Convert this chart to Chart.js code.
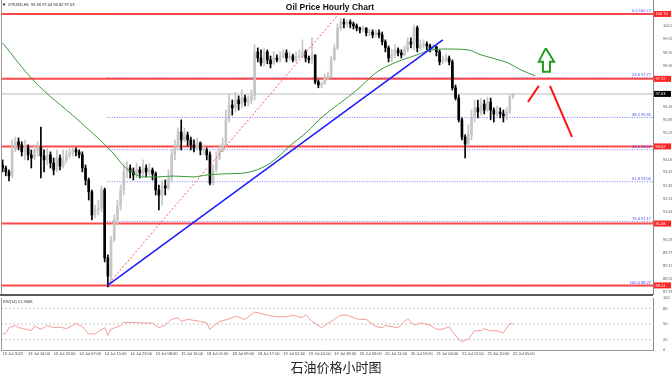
<!DOCTYPE html>
<html>
<head>
<meta charset="utf-8">
<script src="https://cdn.jsdelivr.net/npm/chart.js@4.4.0/dist/chart.umd.min.js"></script>
<style>
  html, body { margin: 0; padding: 0; background: #fff; }
  #wrap { position: relative; width: 672px; height: 377px; overflow: hidden; }
  #price-chart { position: absolute; left: 0; top: 0; }
  #rsi-chart { position: absolute; left: 0; top: 296px; }
  #divider { position: absolute; left: 0; top: 294px; width: 653px; height: 2px; background: #5a5a5a; }
  #title { position: absolute; left: 0; top: 2px; width: 660px; text-align: center;
           font: bold 8.5px "Liberation Sans", Arial, sans-serif; color: #111; }
  #caption { position: absolute; left: 0; top: 359px; width: 672px; text-align: center;
             font: 13px "Noto Sans CJK SC", sans-serif; color: #222; line-height: 16px; }
</style>
</head>
<body>
<div id="wrap">
  <canvas id="price-chart" width="672" height="295"></canvas>
  <div id="divider"></div>
  <canvas id="rsi-chart" width="672" height="62"></canvas>
  <div id="title">Oil Price Hourly Chart</div>
  <div id="caption">石油价格小时图</div>
</div>
<script>
// XTIUSD H1 candles, bar 0 = 13 Jul 06:00, bar 160 = 22 Jul 05:00
const opens = [93.77,93.63,93.45,93.27,94.46,94.83,94.69,94.37,94.55,94.23,
  94.09,94.46,94.55,94.18,94.00,94.23,93.86,93.54,94.09,93.72,
  94.00,94.23,94.32,94.46,94.37,94.23,93.63,93.08,92.53,91.47,
  91.70,91.80,92.62,89.50,88.67,90.33,91.25,91.89,92.62,93.45,
  93.63,93.45,93.31,93.54,93.40,93.63,93.45,93.54,93.36,92.62,
  92.39,92.81,92.71,93.17,94.23,94.55,95.28,94.92,95.15,94.92,
  94.69,94.55,94.78,94.46,94.46,94.23,92.94,93.54,94.09,94.46,
  94.69,95.84,96.52,96.39,96.75,96.57,96.84,96.66,96.75,96.94,
  98.96,98.68,98.45,98.96,98.59,98.41,98.68,98.59,98.73,98.91,
  98.68,98.77,98.59,98.73,98.77,98.96,98.68,98.59,98.82,97.58,
  97.44,97.49,97.76,97.85,98.59,99.14,100.06,100.33,100.24,100.33,
  100.24,100.15,100.06,99.97,100.06,99.83,99.87,99.74,99.83,99.74,
  99.42,99.14,98.68,98.82,99.05,98.91,98.82,99.05,99.42,99.32,
  100.06,99.14,99.28,99.32,99.23,99.05,99.19,98.96,98.50,98.59,
  98.68,98.50,97.31,96.84,95.84,95.05,94.73,95.15,95.93,96.39,
  96.20,96.57,96.29,96.66,96.29,96.11,96.20,96.11,96.02,96.20,
  96.90];
const highs = [94.00,93.72,93.54,94.92,95.05,95.01,94.83,94.92,94.69,94.46,
  94.69,94.83,95.51,94.46,94.55,94.37,94.09,94.46,94.23,94.46,
  94.46,94.55,94.55,94.55,94.46,94.37,93.77,93.17,92.62,91.93,
  92.16,92.81,92.71,89.64,90.51,91.47,92.16,92.85,93.77,93.91,
  93.77,93.63,93.86,93.68,94.00,93.77,93.82,93.63,93.45,92.85,
  93.08,93.08,93.54,94.46,94.92,95.47,95.84,95.47,95.28,95.05,
  94.92,95.01,94.83,94.69,94.55,94.37,93.77,94.37,94.69,95.01,
  96.29,96.98,96.75,97.12,96.94,97.21,96.98,96.94,97.21,99.28,
  99.14,99.05,99.14,99.05,98.77,98.96,98.82,98.96,99.05,99.05,
  98.96,98.86,98.96,99.05,99.51,99.05,98.77,99.60,98.82,97.67,
  97.58,97.95,98.04,98.77,99.32,100.24,100.52,100.47,100.43,100.43,
  100.33,100.24,100.10,100.15,100.06,100.01,99.97,99.97,99.97,99.87,
  99.51,99.23,99.05,99.28,99.14,99.05,99.23,99.60,99.60,100.20,
  100.15,99.51,99.51,99.42,99.32,99.32,99.23,99.05,98.77,98.86,
  98.77,98.59,97.44,96.98,95.93,95.15,95.61,96.29,96.75,96.75,
  96.84,96.75,96.89,96.84,96.39,96.48,96.39,96.29,96.39,96.98,
  97.04];
const lows = [93.45,93.27,93.04,93.17,94.37,94.46,94.18,94.00,94.00,93.63,
  94.00,94.18,93.17,93.45,93.77,93.63,93.31,93.45,93.54,93.63,
  93.86,94.09,94.18,94.18,94.09,93.45,92.85,92.16,91.25,91.34,
  91.47,91.61,89.32,88.17,88.26,90.24,91.01,91.70,92.39,93.17,
  93.17,93.08,93.17,93.17,93.27,93.22,93.31,93.08,92.39,91.70,
  91.93,92.39,92.62,92.99,94.00,94.46,94.46,94.83,94.64,94.46,
  94.37,94.46,94.23,94.23,94.00,92.85,92.85,93.45,94.00,94.37,
  94.55,95.74,96.06,96.20,96.29,96.39,96.48,96.48,96.57,96.75,
  98.50,98.31,98.31,98.41,98.22,98.36,98.50,98.50,98.68,98.50,
  98.59,98.50,98.50,98.68,98.68,98.50,98.45,98.41,97.49,97.31,
  97.31,97.49,97.67,97.76,98.59,99.05,99.97,100.06,100.10,100.06,
  100.01,99.92,99.83,99.87,99.69,99.69,99.60,99.64,99.60,99.28,
  98.96,98.50,98.50,98.68,98.77,98.68,98.77,98.96,99.14,99.05,
  98.96,99.05,99.14,99.05,98.96,99.05,98.77,98.36,98.41,98.50,
  98.36,97.21,96.75,95.74,94.92,94.09,94.64,94.92,95.74,95.93,
  96.06,96.11,96.20,95.84,95.74,95.93,95.93,95.74,95.84,96.11,
  96.82];
const closes = [93.63,93.45,93.27,94.46,94.83,94.69,94.37,94.55,94.23,94.09,
  94.46,94.55,94.18,94.00,94.23,93.86,93.54,94.09,93.72,94.00,
  94.23,94.32,94.46,94.37,94.23,93.63,93.08,92.53,91.47,91.70,
  91.80,92.62,89.50,88.67,90.33,91.25,91.89,92.62,93.45,93.63,
  93.45,93.31,93.54,93.40,93.63,93.45,93.54,93.36,92.62,92.39,
  92.81,92.71,93.17,94.23,94.55,95.28,94.92,95.15,94.92,94.69,
  94.55,94.78,94.46,94.46,94.23,92.94,93.54,94.09,94.46,94.69,
  95.84,96.52,96.39,96.75,96.57,96.84,96.66,96.75,96.94,98.96,
  98.68,98.45,98.96,98.59,98.41,98.68,98.59,98.73,98.91,98.68,
  98.77,98.59,98.73,98.77,98.96,98.68,98.59,98.82,97.58,97.44,
  97.49,97.76,97.85,98.59,99.14,100.06,100.33,100.24,100.33,100.24,
  100.15,100.06,99.97,100.06,99.83,99.87,99.74,99.83,99.74,99.42,
  99.14,98.68,98.82,99.05,98.91,98.82,99.05,99.42,99.32,100.06,
  99.14,99.28,99.32,99.23,99.05,99.19,98.96,98.50,98.59,98.68,
  98.50,97.31,96.84,95.84,95.05,94.73,95.15,95.93,96.39,96.20,
  96.57,96.29,96.66,96.29,96.11,96.20,96.11,96.02,96.20,96.90,
  97.03];

// x axis labels, one every 8 bars
const tickStep = 8;
const tickLabels = ['13 Jul 2022','13 Jul 14:00','13 Jul 22:00','14 Jul 07:00','14 Jul 15:00',
  '14 Jul 23:00','15 Jul 08:00','15 Jul 16:00','18 Jul 01:00','18 Jul 09:00','18 Jul 17:00',
  '19 Jul 02:00','19 Jul 10:00','19 Jul 18:00','20 Jul 03:00','20 Jul 11:00','20 Jul 19:00',
  '21 Jul 04:00','21 Jul 12:00','21 Jul 20:00','22 Jul 05:00'];
const priceTicks = [100.15,99.55,98.90,98.30,96.45,95.85,95.25,94.00,93.45,92.80,92.20,91.60,
  90.35,89.75,89.15,88.55,87.95];

// moving average (shifted forward)
const maBars = [0,9.5,23.6,30.5,34.6,37.7,40.9,44,48.4,53.4,59.7,64.1,69.4,75.7,81.9,86,90.4,
  95.4,99.5,111.1,117.4,123.6,129.9,134.3,139.6,145.9,150,154.4,158.5,162.5,167];
const maValues = [99.37,97.67,95.84,94.92,94.32,93.77,93.40,93.22,93.22,93.26,93.22,93.31,93.36,
  93.40,93.68,94.09,94.69,95.28,95.88,97.21,98.04,98.50,98.82,99.05,99.09,99.05,98.82,98.64,
  98.45,98.13,97.86];

// horizontal support / resistance and fibonacci retracement
const levelPrices = [100.70, 97.72, 94.62, 91.08, 88.24];
const fibLevels = [0, 23.6, 38.2, 50, 61.8, 76.4, 100];
const fibPrices = [100.72, 97.77, 95.95, 94.47, 93.00, 91.17, 88.22];
const fibStartBar = 32.7;
const currentPrice = 97.03;

// drawn objects
const trendBars = [32.7, 138];
const trendPrices = [88.22, 99.51];
const fibLineBars = [32.7, 105.5];
const fibLinePrices = [88.22, 100.72];
const arrowBars = [170.3, 172.9, 171.6, 171.6, 169.4, 169.4, 168.1, 170.3];
const arrowPrices = [99.13, 98.51, 98.51, 98.05, 98.05, 98.51, 98.51, 99.13];
const redUpBars = [164.7, 168.1];
const redUpPrices = [96.66, 97.40];
const redDownBars = [171.6, 178.5];
const redDownPrices = [97.40, 95.06];

// RSI(14)
const rsiBars = [0,1,2,4,5,6,9,10,12,14,16,18,20,22,23,25,27,29,32,33,
  34,37,38,41,44,47,49,51,53,55,56,58,60,62,64,65,68,69,72,73,
  76,79,81,83,86,89,91,94,95,97,100,101,104,106,108,111,112,114,117,119,
  120,124,126,127,129,131,134,136,138,140,141,143,144,146,148,150,151,153,155,157,
  159,160];
const rsiValues = [31,32,43,47,43,42,37,46,40,47,43,44,41,47,51,45,31,31,43,28,
  40,47,53,53,52,52,43,48,59,62,55,59,57,55,52,40,55,56,62,65,
  59,73,70,67,64,64,67,62,68,55,43,47,59,67,67,60,59,59,45,43,
  47,43,55,60,48,52,48,40,40,45,35,21,16,21,37,37,41,37,37,33,
  51,50];
const rsiLevels = [20, 50, 80];
const rsiTicks = [0, 20, 50, 80, 100];
const rsiText = 'RSI(14) 51.9668';

const xMin = -0.5, xMax = 203.9;
const axisWidth = 19;
const tinyFont = '"Liberation Sans", Arial, sans-serif';

function points(xs, ys) {
    return xs.map((x, i) => ({ x: x, y: ys[i] }));
}
function lineSet(data, color, width, dash, order, tension) {
    return {
        type: 'line', data: data, borderColor: color, borderWidth: width,
        borderDash: dash || [], pointRadius: 0, fill: false, order: order,
        tension: tension || 0
    };
}
function hLine(price, from, color, width, dash, order) {
    return lineSet([{ x: from, y: price }, { x: xMax, y: price }], color, width, dash, order);
}

const barColors = closes.map((c, i) => c >= opens[i] ? '#c6c6c6' : '#000000');

var priceDatasets = [
    lineSet(points(arrowBars, arrowPrices), '#1f9d1f', 2, [], 0),
    lineSet(points(redUpBars, redUpPrices), '#ff1010', 2, [], 0),
    lineSet(points(redDownBars, redDownPrices), '#ff1010', 2, [], 0),
    lineSet(points(trendBars, trendPrices), '#1a1aff', 1.5, [], 1),
    lineSet(points(fibLineBars, fibLinePrices), '#ff5050', 1, [2, 2], 1),
    Object.assign(lineSet(points(maBars, maValues), '#3a9a3a', 1, [], 2, 0.4), { cubicInterpolationMode: 'monotone' }),
    {
        type: 'bar', data: closes.map((c, i) => ({ x: i, y: [opens[i], c] })),
        backgroundColor: barColors, barThickness: 2, minBarLength: 1, grouped: false, order: 3
    },
    {
        type: 'bar', data: closes.map((c, i) => ({ x: i, y: [lows[i], highs[i]] })),
        backgroundColor: barColors, barThickness: 1, grouped: false, order: 4
    }
];
levelPrices.forEach(p => priceDatasets.push(hLine(p, xMin, 'rgba(255,40,40,0.85)', 2, [], 5)));
fibPrices.forEach(p => priceDatasets.push(hLine(p, fibStartBar, '#7a7aff', 1, [1, 1.5], 6)));
priceDatasets.push(hLine(currentPrice, xMin, '#dcdcdc', 2, [], 7));

function noPad(scale) {
    scale.paddingTop = 0;
    scale.paddingBottom = 0;
    scale.paddingLeft = 0;
    scale.paddingRight = 0;
}

function priceBox(ctx, area, y, value, bg) {
    ctx.fillStyle = bg;
    ctx.fillRect(area.right + 1, y - 3, axisWidth - 2, 6);
    ctx.fillStyle = '#fff';
    ctx.textAlign = 'left';
    ctx.textBaseline = 'middle';
    ctx.fillText(value.toFixed(2), area.right + 2.5, y + 0.3);
}

const priceOverlay = {
    id: 'priceOverlay',
    afterDraw(chart) {
        const ctx = chart.ctx, a = chart.chartArea, y = chart.scales.y;
        const last = closes.length - 1;
        ctx.save();
        ctx.strokeStyle = '#9a9a9a';
        ctx.lineWidth = 1;
        ctx.beginPath();
        ctx.moveTo(a.left + 0.5, a.top);
        ctx.lineTo(a.left + 0.5, a.bottom);
        ctx.stroke();

        // symbol info line
        ctx.fillStyle = '#222';
        ctx.beginPath();
        ctx.moveTo(2.5, 3.5); ctx.lineTo(5.5, 3.5); ctx.lineTo(4, 6); ctx.closePath();
        ctx.fill();
        ctx.font = '4px ' + tinyFont;
        ctx.textAlign = 'left';
        ctx.textBaseline = 'middle';
        ctx.fillText('XTIUSD,H1  ' + opens[last].toFixed(2) + ' ' + highs[last].toFixed(2) + ' ' +
            lows[last].toFixed(2) + ' ' + closes[last].toFixed(2), 8, 4.8);

        // fibonacci labels
        ctx.fillStyle = '#4646ff';
        ctx.textAlign = 'right';
        ctx.textBaseline = 'bottom';
        fibLevels.forEach((lv, k) => {
            ctx.fillText(lv.toFixed(1) + ' ' + fibPrices[k].toFixed(2), a.right - 2, y.getPixelForValue(fibPrices[k]) - 0.5);
        });

        // price boxes on the right axis
        levelPrices.forEach(p => priceBox(ctx, a, y.getPixelForValue(p), p, '#ff2323'));
        priceBox(ctx, a, y.getPixelForValue(currentPrice), currentPrice, '#000');
        ctx.restore();
    }
};

new Chart(document.getElementById('price-chart'), {
    type: 'bar',
    data: { datasets: priceDatasets },
    options: {
        responsive: false,
        animation: false,
        layout: { padding: { left: 1, top: 0, right: 0, bottom: 0 } },
        plugins: { legend: { display: false }, tooltip: { enabled: false } },
        scales: {
            x: { type: 'linear', min: xMin, max: xMax, offset: false, display: false },
            y: {
                position: 'right', min: 87.80, max: 101.34,
                afterFit: s => { s.width = axisWidth; noPad(s); },
                afterBuildTicks: s => { s.ticks = priceTicks.map(v => ({ value: v })); },
                ticks: { autoSkip: false, padding: 2, color: '#555', font: { size: 4, family: tinyFont },
                         callback: v => v.toFixed(2) },
                grid: { display: false },
                border: { display: true, color: '#8a8a8a' }
            }
        }
    },
    plugins: [priceOverlay]
});

var rsiDatasets = [
    lineSet(points(rsiBars, rsiValues), '#f49a9a', 1, [], 0)
];
rsiLevels.forEach(v => rsiDatasets.push(hLine(v, xMin, '#c8c8c8', 1, [2, 2], 1)));

const rsiOverlay = {
    id: 'rsiOverlay',
    afterDraw(chart) {
        const ctx = chart.ctx, a = chart.chartArea;
        ctx.save();
        ctx.strokeStyle = '#9a9a9a';
        ctx.lineWidth = 1;
        ctx.beginPath();
        ctx.moveTo(a.left + 0.5, a.top);
        ctx.lineTo(a.left + 0.5, a.bottom);
        ctx.stroke();
        ctx.fillStyle = '#333';
        ctx.font = '4px ' + tinyFont;
        ctx.textAlign = 'left';
        ctx.textBaseline = 'top';
        ctx.fillText(rsiText, a.left + 2, a.top + 2);
        ctx.restore();
    }
};

new Chart(document.getElementById('rsi-chart'), {
    type: 'line',
    data: { datasets: rsiDatasets },
    options: {
        responsive: false,
        animation: false,
        layout: { padding: { left: 1, top: 2, right: 0, bottom: 0 } },
        plugins: { legend: { display: false }, tooltip: { enabled: false } },
        scales: {
            x: {
                type: 'linear', min: xMin, max: xMax,
                afterFit: s => { s.height = 8; noPad(s); },
                afterBuildTicks: s => { s.ticks = tickLabels.map((t, k) => ({ value: k * tickStep })); },
                ticks: { autoSkip: false, maxRotation: 0, align: 'start', padding: 1.5, color: '#444',
                         font: { size: 4, family: tinyFont },
                         callback: v => tickLabels[v / tickStep] || '' },
                grid: { display: false, drawTicks: false },
                border: { display: true, color: '#9a9a9a' }
            },
            y: {
                position: 'right', min: 0, max: 100,
                afterFit: s => { s.width = axisWidth; noPad(s); },
                afterBuildTicks: s => { s.ticks = rsiTicks.map(v => ({ value: v })); },
                ticks: { autoSkip: false, padding: 2, color: '#555', font: { size: 4, family: tinyFont } },
                grid: { display: false },
                border: { display: true, color: '#8a8a8a' }
            }
        }
    },
    plugins: [rsiOverlay]
});
</script>
</body>
</html>
